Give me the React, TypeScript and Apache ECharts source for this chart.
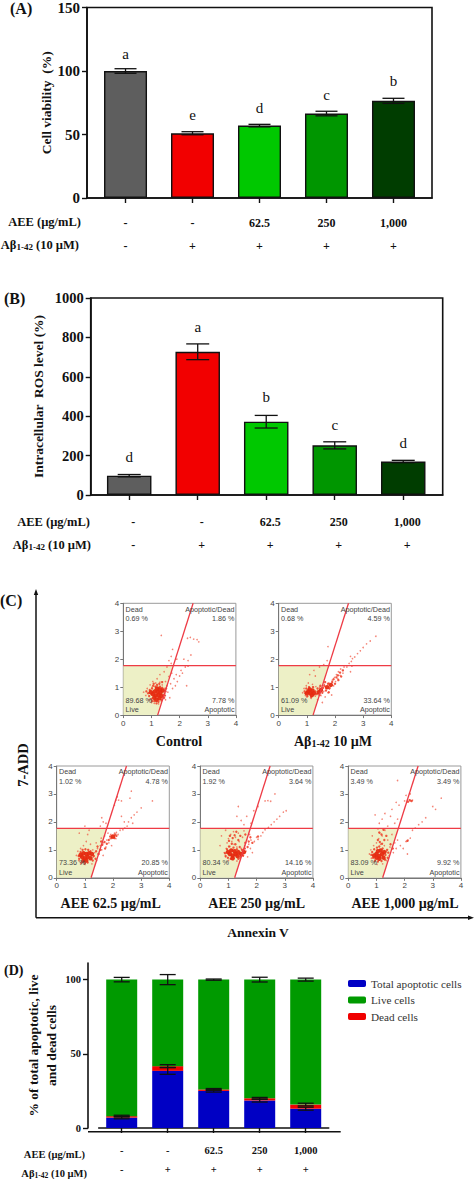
import React, { useEffect, useRef } from "react";
import * as echarts from "echarts";

const SERIF = '"Liberation Serif", serif';
const SANS = '"Liberation Sans", sans-serif';

const aeeTicks = ["-", "-", "62.5", "250", "1,000"];
const abTicks = ["-", "+", "+", "+", "+"];
const barColors = ["#5e5e5e", "#f20000", "#00c800", "#009600", "#003d00"];

const viability = [100, 51, 57, 66.5, 76.5];
const viabilityErr = [1.8, 1.2, 1.0, 1.8, 2.0];
const viabilityLetters = ["a", "e", "d", "c", "b"];
const viabilityLetterAt = [113, 65, 71, 81, 92.5];

const ros = [98, 727, 372, 252, 170];
const rosErr = [6, 40, 32, 18, 6];
const rosLetters = ["d", "a", "b", "c", "d"];
const rosLetterAt = [194, 854, 496, 354, 262];

const apoptotic = [7, 38.5, 25, 18.5, 13];
const dead = [1, 3.2, 1, 1.5, 2.8];
const live = [92, 58.3, 74, 80, 84.2];
const apoptoticErr = [0.8, 2.3, 0.8, 1, 1];
const deadErr = [0.6, 1, 0.6, 0.6, 0.9];
const liveErr = [1.5, 3.4, 0.4, 1.6, 1];

const controlCore = [[1.05, 0.75], [1.15, 0.7], [1.25, 0.72], [1.12, 0.85], [1.22, 0.83], [1.32, 0.8], [1.2, 0.95], [1.3, 0.92], [1.1, 0.62], [1.35, 0.68], [0.98, 0.82], [1.28, 0.6], [1.18, 0.55], [1.4, 0.88]];
const controlCloud = [[0.88, 0.78], [0.92, 0.68], [0.94, 0.9], [1.0, 0.58], [1.02, 0.95], [1.06, 1.05], [1.1, 0.5], [1.14, 1.02], [1.2, 1.08], [1.25, 0.48], [1.3, 1.02], [1.35, 0.55], [1.38, 0.98], [1.42, 0.72], [1.45, 0.62], [1.5, 0.85], [1.52, 0.95], [0.82, 0.85], [1.08, 1.12], [1.28, 1.12], [1.38, 1.18], [1.48, 0.7], [1.18, 0.42], [1.02, 0.5]];
const controlDots = [[0.72, 0.82], [0.8, 0.7], [0.85, 0.95], [0.9, 0.55], [0.92, 0.8], [0.95, 1.08], [1.0, 0.45], [1.02, 1.0], [1.05, 1.2], [1.1, 0.42], [1.15, 1.15], [1.2, 1.3], [1.25, 0.4], [1.3, 1.18], [1.35, 0.5], [1.38, 1.08], [1.42, 0.6], [1.45, 0.95], [1.48, 0.78], [1.5, 1.2], [1.5, 0.55], [1.55, 1.05], [1.58, 0.82], [1.62, 1.38], [1.65, 0.62], [1.68, 1.12], [1.72, 1.5], [1.75, 0.95], [1.8, 1.3], [1.85, 1.05], [1.88, 1.45], [1.92, 1.2], [2.0, 1.4], [2.05, 1.6], [2.1, 1.5], [2.2, 1.72], [2.25, 1.05], [2.3, 1.75], [1.55, 1.72], [1.7, 1.85], [1.62, 1.95], [1.75, 2.35], [1.7, 2.1], [1.9, 2.0], [2.15, 2.0], [2.3, 1.95], [2.4, 2.15], [1.35, 2.85], [2.28, 2.75], [2.38, 2.78], [2.5, 2.72], [2.62, 2.7], [2.68, 2.62], [1.3, 1.45], [1.45, 1.55]];

const abCore = [[1.05, 0.85], [1.12, 0.78], [1.2, 0.88], [1.1, 0.92], [1.25, 0.78], [1.42, 0.82], [1.0, 0.78], [1.18, 0.72], [1.5, 0.9], [1.72, 1.0], [1.85, 1.08]];
const abCloud = [[0.92, 0.85], [0.95, 0.78], [0.98, 0.95], [1.02, 0.68], [1.08, 1.0], [1.15, 0.65], [1.22, 1.0], [1.3, 0.85], [1.35, 0.75], [1.38, 0.95], [1.45, 0.72], [1.55, 0.8], [1.58, 0.98], [1.62, 1.05], [1.68, 0.88], [1.75, 1.12], [1.8, 0.95], [1.9, 1.18], [1.95, 1.28], [2.0, 1.12], [2.05, 1.35], [2.1, 1.42], [2.12, 1.25], [2.18, 1.52], [2.22, 1.38], [2.28, 1.6], [1.65, 1.18], [1.48, 1.05], [1.78, 0.82]];
const abDots = [[0.85, 0.8], [0.9, 0.95], [0.95, 0.7], [0.98, 1.05], [1.0, 0.65], [1.05, 1.15], [1.15, 0.6], [1.2, 1.1], [1.3, 0.68], [1.32, 1.02], [1.38, 0.55], [1.45, 1.0], [1.5, 0.7], [1.52, 0.95], [1.55, 0.45], [1.6, 0.85], [1.62, 1.1], [1.65, 0.65], [1.68, 0.95], [1.75, 0.8], [1.78, 1.15], [1.82, 0.98], [1.88, 0.72], [1.9, 1.25], [1.95, 1.05], [1.98, 1.35], [2.02, 1.2], [2.05, 1.45], [2.1, 1.3], [2.12, 1.55], [2.18, 1.42], [2.2, 1.65], [2.28, 1.5], [2.32, 1.72], [2.42, 1.72], [2.5, 1.85], [2.58, 1.92], [2.62, 2.02], [2.7, 2.08], [2.8, 2.2], [2.9, 2.3], [3.0, 2.42], [3.12, 2.55], [3.25, 2.65], [3.45, 2.82], [2.55, 1.55], [1.75, 2.45], [1.72, 1.95], [1.6, 1.8], [1.45, 1.72], [1.3, 1.4], [1.25, 1.6], [1.1, 1.45], [2.55, 2.1], [2.6, 1.75]];

const aee62Core = [[0.9, 0.75], [1.0, 0.7], [1.1, 0.75], [0.95, 0.88], [1.05, 0.85], [1.15, 0.88], [1.05, 0.62], [0.95, 0.62], [1.2, 0.7], [0.85, 0.82], [1.25, 0.85], [2.0, 1.48]];
const aee62Cloud = [[0.78, 0.78], [0.8, 0.68], [0.85, 0.92], [0.88, 0.55], [0.92, 1.0], [1.0, 0.52], [1.02, 1.02], [1.1, 0.55], [1.12, 1.0], [1.2, 0.95], [1.28, 0.62], [1.32, 0.78], [1.38, 0.68], [1.4, 0.95], [1.45, 1.12], [1.55, 1.0], [1.62, 1.18], [1.7, 1.28], [1.78, 1.22], [1.85, 1.35], [1.9, 1.48], [1.95, 1.42], [2.05, 1.42], [2.08, 1.55], [2.12, 1.5], [1.72, 1.05], [1.58, 1.3], [1.48, 0.85]];
const aee62Dots = [[0.7, 0.8], [0.75, 0.95], [0.78, 0.62], [0.85, 1.05], [0.85, 0.5], [0.95, 1.15], [1.0, 0.48], [1.05, 1.3], [1.1, 1.55], [1.15, 1.7], [1.2, 1.2], [1.25, 0.5], [1.28, 1.0], [1.3, 0.75], [1.35, 0.9], [1.4, 1.25], [1.42, 0.62], [1.45, 1.05], [1.5, 0.85], [1.55, 1.15], [1.58, 1.42], [1.6, 1.0], [1.65, 0.8], [1.65, 1.25], [1.7, 1.5], [1.75, 1.1], [1.78, 1.35], [1.82, 1.6], [1.85, 1.25], [1.9, 1.4], [1.92, 1.55], [1.95, 1.15], [2.05, 1.6], [2.1, 1.4], [2.12, 1.62], [2.18, 1.55], [2.25, 1.7], [2.35, 1.72], [2.42, 1.78], [2.5, 1.85], [2.55, 2.0], [2.65, 2.15], [2.75, 2.25], [2.85, 2.35], [3.0, 2.5], [3.4, 2.75], [2.7, 1.95], [2.4, 2.0], [2.3, 2.2], [1.65, 2.0], [1.6, 2.15], [1.55, 1.85], [1.75, 1.95], [2.1, 2.78], [2.2, 2.78], [2.3, 2.75], [2.15, 2.9], [2.6, 2.85], [2.65, 3.1], [2.05, 2.6], [0.8, 1.6], [1.0, 1.85]];

const aee250Core = [[1.05, 0.85], [1.15, 0.8], [1.25, 0.85], [1.1, 0.98], [1.22, 0.95], [1.32, 0.78], [1.45, 0.85], [1.15, 0.7], [0.98, 0.92], [1.35, 0.92], [1.55, 0.92]];
const aee250Cloud = [[0.88, 0.88], [0.9, 0.78], [0.95, 1.02], [0.98, 0.72], [1.02, 1.12], [1.08, 0.68], [1.12, 1.22], [1.18, 1.08], [1.25, 1.2], [1.3, 1.02], [1.35, 0.68], [1.4, 1.1], [1.42, 0.75], [1.48, 1.0], [1.52, 0.8], [1.58, 1.05], [1.6, 1.25], [1.68, 1.1], [1.72, 1.3], [1.78, 1.45], [1.85, 1.25], [1.02, 1.32], [1.15, 1.42], [1.22, 1.52], [1.35, 1.35], [1.05, 1.5], [1.42, 1.5], [1.28, 1.65], [1.6, 1.55], [2.05, 1.48]];
const aee250Dots = [[0.85, 0.9], [0.9, 0.75], [0.92, 1.05], [0.95, 1.25], [1.0, 0.62], [1.0, 1.4], [1.05, 1.12], [1.08, 1.55], [1.12, 1.3], [1.18, 1.65], [1.2, 1.2], [1.25, 1.45], [1.3, 1.1], [1.3, 0.6], [1.35, 1.6], [1.38, 1.3], [1.4, 0.7], [1.45, 1.05], [1.5, 1.45], [1.52, 0.78], [1.55, 1.68], [1.58, 1.15], [1.62, 0.95], [1.65, 1.35], [1.68, 0.75], [1.72, 1.2], [1.75, 1.55], [1.78, 1.05], [1.8, 1.35], [1.85, 0.9], [1.92, 1.3], [2.0, 1.45], [2.05, 1.38], [2.15, 1.5], [2.22, 1.62], [2.3, 1.72], [2.42, 1.8], [2.52, 1.9], [2.62, 2.0], [2.72, 2.1], [2.82, 2.2], [2.95, 2.35], [3.05, 2.4], [1.55, 1.9], [1.45, 2.05], [1.3, 2.2], [1.65, 2.2], [1.35, 2.55], [1.8, 1.95], [1.9, 2.4], [2.3, 2.75], [2.4, 2.76], [2.5, 2.74], [2.65, 3.0], [2.05, 2.55], [0.75, 1.5], [0.9, 1.7], [0.7, 1.15]];

const aee1000Core = [[1.0, 0.85], [1.1, 0.78], [1.2, 0.85], [1.05, 0.95], [1.15, 0.98], [1.1, 0.68], [1.25, 0.72], [1.0, 0.72], [0.92, 0.8], [1.28, 0.92]];
const aee1000Cloud = [[0.82, 0.82], [0.85, 0.92], [0.88, 0.72], [0.92, 1.02], [0.95, 0.62], [1.02, 1.08], [1.05, 0.58], [1.1, 1.12], [1.18, 0.6], [1.22, 1.05], [1.3, 0.65], [1.32, 0.82], [1.38, 1.0], [1.4, 0.72], [1.42, 0.9], [1.12, 1.28], [1.2, 1.22], [1.05, 1.35], [1.28, 1.35], [1.18, 1.55], [1.1, 1.62], [1.35, 1.5], [1.25, 1.72], [1.5, 1.2], [1.58, 1.05], [2.18, 2.78], [2.25, 2.75], [2.12, 2.72], [2.1, 1.32]];
const aee1000Dots = [[0.75, 0.85], [0.8, 1.0], [0.82, 0.7], [0.9, 1.15], [0.92, 0.58], [1.0, 1.25], [1.02, 0.48], [1.08, 1.4], [1.12, 1.6], [1.15, 1.2], [1.2, 1.5], [1.22, 0.5], [1.28, 1.15], [1.3, 1.7], [1.35, 0.95], [1.35, 0.62], [1.4, 1.35], [1.45, 0.8], [1.48, 1.1], [1.55, 1.55], [1.6, 0.9], [1.65, 1.25], [1.7, 1.05], [1.75, 1.35], [1.85, 1.15], [1.95, 1.05], [2.05, 1.3], [2.12, 1.35], [2.2, 1.42], [2.28, 1.7], [2.38, 1.78], [2.5, 1.9], [2.62, 2.0], [2.75, 2.15], [2.1, 0.85], [1.05, 1.75], [1.1, 1.95], [1.2, 2.1], [1.3, 2.3], [1.4, 1.85], [1.5, 2.2], [1.55, 2.45], [1.65, 1.95], [1.75, 2.1], [1.8, 2.6], [1.7, 2.7], [2.0, 2.75], [2.1, 2.78], [2.2, 2.75], [2.28, 2.78], [2.05, 2.95], [2.2, 3.0], [1.75, 3.48], [0.85, 1.5], [0.95, 2.25], [3.0, 2.55], [3.3, 2.85], [3.1, 2.45]];

const panelTitles = ["Control", "abeta", "AEE 62.5 µg/mL", "AEE 250 µg/mL", "AEE 1,000 µg/mL"];
const panelCores = [controlCore, abCore, aee62Core, aee250Core, aee1000Core];
const panelClouds = [controlCloud, abCloud, aee62Cloud, aee250Cloud, aee1000Cloud];
const panelDots = [controlDots, abDots, aee62Dots, aee250Dots, aee1000Dots];
const panelDead = ["0.69 %", "0.68 %", "1.02 %", "1.92 %", "3.49 %"];
const panelApoDead = ["1.86 %", "4.59 %", "4.78 %", "3.64 %", "3.49 %"];
const panelLive = ["89.68 %", "61.09 %", "73.36 %", "80.34 %", "83.09 %"];
const panelApo = ["7.78 %", "33.64 %", "20.85 %", "14.16 %", "9.92 %"];

const gateBottomX = 1.22;
const gateTopX = 2.48;
const gateY = 1.77;

const legendNames = ["Total apoptotic cells", "Live cells", "Dead cells"];

const idx = [0, 1, 2, 3, 4];

function errorSeries(gridIdx: number, centers: number[], errs: number[], cap: number) {
  return {
    type: "custom",
    xAxisIndex: gridIdx,
    yAxisIndex: gridIdx,
    z: 5,
    clip: false,
    silent: true,
    data: centers.map((c, i) => [i, c, errs[i]]),
    renderItem: (_p: any, api: any) => {
      const x = api.value(0), c = api.value(1), e = api.value(2);
      const top = api.coord([x, c + e]);
      const bot = api.coord([x, c - e]);
      const st = { stroke: "#111", lineWidth: 1.3 };
      const mk = (x1: number, y1: number, x2: number, y2: number) => ({ type: "line", shape: { x1, y1, x2, y2 }, style: st });
      return {
        type: "group",
        children: [
          mk(top[0], top[1], bot[0], bot[1]),
          mk(top[0] - cap / 2, top[1], top[0] + cap / 2, top[1]),
          mk(bot[0] - cap / 2, bot[1], bot[0] + cap / 2, bot[1]),
        ],
      };
    },
  };
}

function letterSeries(gridIdx: number, at: number[], letters: string[]) {
  return {
    type: "custom",
    xAxisIndex: gridIdx,
    yAxisIndex: gridIdx,
    z: 6,
    silent: true,
    data: at.map((v, i) => [i, v]),
    renderItem: (p: any, api: any) => {
      const pt = api.coord([api.value(0), api.value(1)]);
      return {
        type: "text",
        style: { text: letters[p.dataIndex], x: pt[0], y: pt[1], align: "center", verticalAlign: "middle", font: `15px ${SERIF}`, fill: "#111" },
      };
    },
  };
}

function barSeries(gridIdx: number, vals: number[], width: number) {
  return {
    type: "bar",
    xAxisIndex: gridIdx,
    yAxisIndex: gridIdx,
    barWidth: width,
    z: 3,
    data: vals.map((v, i) => ({ value: [i, v], itemStyle: { color: barColors[i], borderColor: "#111", borderWidth: 1.4 } })),
  };
}

function barAxes(rect: any, xr: number[] | null, ymax: number, yticks: number[], nameY: string, nameGap: number, opts: any) {
  const gridCfg = { left: rect.l, top: rect.t, width: rect.w, height: rect.h, show: opts.frame, borderColor: "#111", borderWidth: opts.frame ? 1.6 : 0, containLabel: false };
  const labelBase = {
    show: true,
    hideOverlap: false,
    formatter: (v: number, i: number) => {
      const k = xr ? v : i;
      return `${aeeTicks[k]}\n${abTicks[k]}`;
    },
    fontFamily: SERIF,
    fontWeight: "bold",
    fontSize: opts.xFont,
    color: "#111",
    lineHeight: opts.rowGap,
    margin: opts.xMargin,
    padding: opts.xPad,
  };
  const lineBase = { show: true, onZero: false, lineStyle: { color: "#111", width: 1.6 } };
  const tickStyle = { color: "#111", width: 1.4 };
  const x = xr
    ? {
        type: "value",
        gridIndex: opts.gi,
        min: xr[0],
        max: xr[1],
        splitLine: { show: false },
        axisLine: lineBase,
        axisTick: { show: true, length: opts.tick, customValues: idx, lineStyle: tickStyle },
        axisLabel: { ...labelBase, customValues: idx, showMinLabel: true, showMaxLabel: true },
      }
    : {
        type: "category",
        gridIndex: opts.gi,
        data: aeeTicks,
        splitLine: { show: false },
        axisLine: lineBase,
        axisTick: { show: true, length: opts.tick, alignWithLabel: true, lineStyle: tickStyle },
        axisLabel: { ...labelBase, interval: 0 },
      };
  const y = {
    type: "value",
    gridIndex: opts.gi,
    min: 0,
    max: ymax,
    offset: opts.yOffset ?? 0,
    splitLine: { show: false },
    name: nameY,
    nameLocation: "middle",
    nameRotate: 90,
    nameGap,
    nameMoveOverlap: false,
    nameTextStyle: { fontFamily: SERIF, fontWeight: "bold", fontSize: opts.nameFont, color: "#111", lineHeight: opts.nameLine },
    axisLine: lineBase,
    axisTick: { show: true, length: opts.tick, customValues: yticks, lineStyle: tickStyle },
    axisLabel: { show: true, customValues: yticks, formatter: (v: number) => String(v), fontFamily: SERIF, fontWeight: "bold", fontSize: opts.yFont, color: "#111", margin: opts.yMargin },
  };
  return { gridCfg, x, y };
}

function rowHeaders(aeeX: number, abX: number, y1: number, y2: number, size: number) {
  const subSize = size * 0.72;
  return [
    { type: "text", x: aeeX, y: y1, style: { text: "AEE (µg/mL)", align: "right", verticalAlign: "middle", font: `bold ${size}px ${SERIF}`, fill: "#111" } },
    {
      type: "text", x: abX, y: y2,
      style: {
        text: "{n|Aβ}{s|1-42}{n| (10 µM)}", align: "right", verticalAlign: "middle", fill: "#111",
        rich: {
          n: { font: `bold ${size}px ${SERIF}`, fill: "#111" },
          s: { font: `bold ${subSize}px ${SERIF}`, fill: "#111", verticalAlign: "bottom", padding: [4, 0, 0, 0] },
        },
      },
    },
  ];
}

function panelLetter(s: string, x: number, y: number, size: number) {
  return { type: "text", x, y, style: { text: s, align: "left", verticalAlign: "middle", font: `bold ${size}px ${SERIF}`, fill: "#111" } };
}

function caption(text: string, x: number, y: number) {
  if (text === "abeta") {
    return {
      type: "text", x, y,
      style: {
        text: "{n|Aβ}{s|1-42}{n| 10 µM}", align: "center", verticalAlign: "middle", fill: "#111",
        rich: {
          n: { font: `bold 14px ${SERIF}`, fill: "#111" },
          s: { font: `bold 10px ${SERIF}`, fill: "#111", verticalAlign: "bottom", padding: [4, 0, 0, 0] },
        },
      },
    };
  }
  return { type: "text", x, y, style: { text, align: "center", verticalAlign: "middle", font: `bold 14px ${SERIF}`, fill: "#111" } };
}

export default function App() {
  const ref = useRef<HTMLDivElement>(null);
  useEffect(() => {
    if (!ref.current) return;
    const chart = echarts.init(ref.current, undefined, { renderer: "svg" });

    const A = barAxes({ l: 87, t: 5, w: 345, h: 193 }, [-0.575, 4.575], 150, [0, 50, 100, 150], "Cell viability  (%)", 32, { gi: 0, frame: true, tick: 5, xFont: 12, rowGap: 23, xMargin: 13, yFont: 15, yMargin: 7, nameFont: 13.5, nameLine: 18 });
    const B = barAxes({ l: 90.7, t: 298, w: 352, h: 197 }, [-0.562, 4.576], 1000, [0, 200, 400, 600, 800, 1000], "Intracellular  ROS level (%)", 43, { gi: 1, frame: true, tick: 5, xFont: 12, rowGap: 23, xMargin: 15, xPad: [0, 0, 0, 8], yFont: 14.5, yMargin: 7, nameFont: 13.5, nameLine: 18 });
    const D = barAxes({ l: 98.7, t: 963, w: 230, h: 168.7 }, null, 111.2, [0, 50, 100], "% of total apoptotic, live\nand dead cells", 28, { gi: 2, frame: false, tick: 5, xFont: 10.5, rowGap: 19, xMargin: 13, yFont: 10.5, yMargin: 7, yOffset: 10.7, nameFont: 13.5, nameLine: 18 });

    const panelRects = [
      { l: 123.3, t: 603.3 },
      { l: 278.7, t: 603.3 },
      { l: 56.7, t: 766 },
      { l: 200.3, t: 766 },
      { l: 348.3, t: 766 },
    ];
    const captionPos = [[179, 741], [333, 741], [110.7, 903], [256.7, 903], [405, 903]];

    const grids: any[] = [A.gridCfg, B.gridCfg, D.gridCfg];
    const xAxes: any[] = [A.x, B.x, D.x];
    const yAxes: any[] = [A.y, B.y, D.y];
    const panelSeries: any[] = [];

    panelRects.forEach((r, k) => {
      const gi = 3 + k;
      grids.push({ left: r.l, top: r.t, width: 112.6, height: 111.8, show: true, borderColor: "#9a9a9a", borderWidth: 1, containLabel: false });
      const axisBase = {
        type: "value", gridIndex: gi, min: 0, max: 4, interval: 1,
        splitLine: { show: false },
        axisLine: { show: true, onZero: false, lineStyle: { color: "#777", width: 1 } },
        axisTick: { show: true, length: 3, lineStyle: { color: "#777", width: 1 } },
        axisLabel: { show: true, fontFamily: SANS, fontSize: 8, color: "#444", margin: 4 },
      };
      xAxes.push({ ...axisBase });
      yAxes.push({ ...axisBase });
      panelSeries.push({
        type: "custom", xAxisIndex: gi, yAxisIndex: gi, z: 1, silent: true, data: [[0, 0]],
        renderItem: (_p: any, api: any) => ({
          type: "polygon",
          shape: {
            points: [
              api.coord([0, 0]),
              api.coord([gateBottomX, 0]),
              api.coord([gateBottomX + ((gateTopX - gateBottomX) * gateY) / 4, gateY]),
              api.coord([0, gateY]),
            ],
          },
          style: { fill: "#edf0c6" },
        }),
      });
      panelSeries.push({
        type: "scatter", xAxisIndex: gi, yAxisIndex: gi, z: 2, silent: true, symbolSize: 1.6,
        itemStyle: { color: "#f0503c", opacity: 0.7 }, data: panelDots[k],
      });
      panelSeries.push({
        type: "scatter", xAxisIndex: gi, yAxisIndex: gi, z: 2, silent: true, symbolSize: 2.4,
        itemStyle: { color: "#ee3a22", opacity: 0.85 }, data: panelClouds[k],
      });
      panelSeries.push({
        type: "scatter", xAxisIndex: gi, yAxisIndex: gi, z: 2, silent: true, symbolSize: 4.5,
        itemStyle: { color: "#e62a10", opacity: 0.95 }, data: panelCores[k],
      });
      panelSeries.push({
        type: "custom", xAxisIndex: gi, yAxisIndex: gi, z: 4, silent: true, clip: false, data: [[0, 0]],
        renderItem: (_p: any, api: any) => {
          const line = (a: number[], b: number[], w: number) => {
            const p = api.coord(a), q = api.coord(b);
            return { type: "line", shape: { x1: p[0], y1: p[1], x2: q[0], y2: q[1] }, style: { stroke: "#ee3b45", lineWidth: w } };
          };
          const txt = (s: string, x: number, y: number, align: string) => {
            const p = api.coord([x, y]);
            return { type: "text", style: { text: s, x: p[0], y: p[1], align, verticalAlign: "middle", font: `7.2px ${SANS}`, fill: "#444" } };
          };
          return {
            type: "group",
            children: [
              line([0, gateY], [4, gateY], 1.1),
              line([gateBottomX, 0], [gateTopX, 4], 1.3),
              txt("Dead", 0.08, 3.79, "left"),
              txt(panelDead[k], 0.08, 3.45, "left"),
              txt("Apoptotic/Dead", 3.95, 3.79, "right"),
              txt(panelApoDead[k], 3.95, 3.45, "right"),
              txt(panelLive[k], 0.08, 0.54, "left"),
              txt("Live", 0.08, 0.19, "left"),
              txt(panelApo[k], 3.95, 0.54, "right"),
              txt("Apoptotic", 3.95, 0.19, "right"),
            ],
          };
        },
      });
    });

    const stackTop1 = apoptotic;
    const stackTop2 = apoptotic.map((v, i) => v + dead[i]);
    const stackTop3 = stackTop2.map((v, i) => v + live[i]);

    const stacked = (name: string, vals: number[], color: string) => ({
      name, type: "bar", stack: "total", xAxisIndex: 2, yAxisIndex: 2, barWidth: 31, z: 3,
      itemStyle: { color, borderWidth: 0 },
      data: vals,
    });

    const option: any = {
      animation: false,
      backgroundColor: "#ffffff",
      grid: grids,
      xAxis: xAxes,
      yAxis: yAxes,
      legend: {
        left: 343, top: 973, orient: "vertical", itemWidth: 18, itemHeight: 7, itemGap: 5.5,
        itemStyle: { borderWidth: 0 },
        selectedMode: false,
        data: legendNames,
        textStyle: { fontFamily: SERIF, fontSize: 11.2, color: "#333" },
      },
      graphic: [
        panelLetter("(A)", 10, 8, 16),
        panelLetter("(B)", 4, 298, 16),
        panelLetter("(C)", 0, 600, 16),
        panelLetter("(D)", 4, 970, 14),
        ...rowHeaders(81, 79, 222, 245, 12.5),
        ...rowHeaders(90, 91, 522, 545, 12.5),
        ...rowHeaders(85, 87, 1154, 1173, 10.5),
        { type: "line", shape: { x1: 88, y1: 1131.7, x2: 340.7, y2: 1131.7 }, style: { stroke: "#111", lineWidth: 1.6 } },
        { type: "line", shape: { x1: 36, y1: 592, x2: 36, y2: 917.7 }, style: { stroke: "#111", lineWidth: 1.5 } },
        { type: "line", shape: { x1: 36, y1: 917.7, x2: 471, y2: 917.7 }, style: { stroke: "#111", lineWidth: 1.5 } },
        { type: "polygon", shape: { points: [[36, 589], [33.8, 595], [38.2, 595]] }, style: { fill: "#111" } },
        { type: "polygon", shape: { points: [[474, 917.7], [468, 915.5], [468, 920]] }, style: { fill: "#111" } },
        { type: "text", x: 23, y: 765, rotation: Math.PI / 2, style: { text: "7-ADD", align: "center", verticalAlign: "middle", font: `bold 14.5px ${SERIF}`, fill: "#111" } },
        { type: "text", x: 258, y: 932, style: { text: "Annexin V", align: "center", verticalAlign: "middle", font: `bold 13.5px ${SERIF}`, fill: "#111" } },
        ...panelTitles.map((t, i) => caption(t, captionPos[i][0], captionPos[i][1])),
      ],
      series: [
        barSeries(0, viability, 43),
        errorSeries(0, viability, viabilityErr, 22),
        letterSeries(0, viabilityLetterAt, viabilityLetters),
        barSeries(1, ros, 44.5),
        errorSeries(1, ros, rosErr, 23),
        letterSeries(1, rosLetterAt, rosLetters),
        stacked(legendNames[0], apoptotic, "#0000c4"),
        stacked(legendNames[2], dead, "#f00000"),
        stacked(legendNames[1], live, "#009a00"),
        errorSeries(2, stackTop1, apoptoticErr, 16),
        errorSeries(2, stackTop2, deadErr, 16),
        errorSeries(2, stackTop3, liveErr, 16),
        ...panelSeries,
      ],
    };
    chart.setOption(option);
    return () => chart.dispose();
  }, []);
  return <div ref={ref} style={{ position: "absolute", left: 0, top: 0, width: 474, height: 1179, background: "#fff" }} />;
}
